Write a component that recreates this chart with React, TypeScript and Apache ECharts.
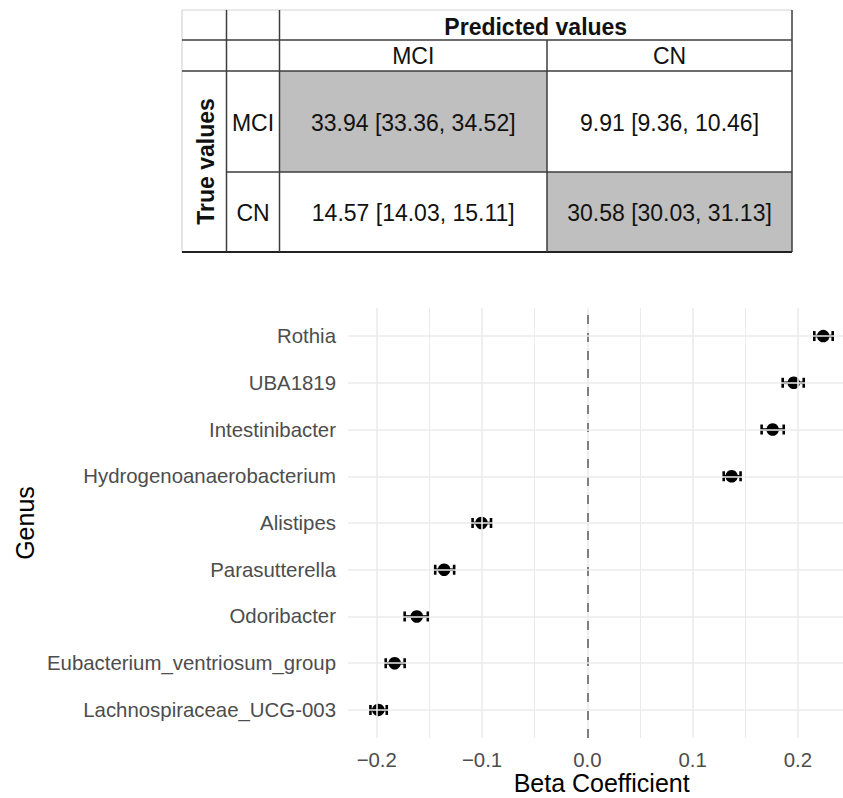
import React, { useEffect, useRef } from "react";
import * as echarts from "echarts";

// ---------- Data ----------
const genera = [
  "Rothia",
  "UBA1819",
  "Intestinibacter",
  "Hydrogenoanaerobacterium",
  "Alistipes",
  "Parasutterella",
  "Odoribacter",
  "Eubacterium_ventriosum_group",
  "Lachnospiraceae_UCG-003",
];
const beta = [0.224, 0.196, 0.176, 0.137, -0.1005, -0.136, -0.162, -0.183, -0.1985];
const betaLow = [0.2155, 0.1855, 0.1655, 0.1295, -0.109, -0.1445, -0.1735, -0.1915, -0.206];
const betaHigh = [0.233, 0.2055, 0.1865, 0.1455, -0.0915, -0.1265, -0.1515, -0.1735, -0.1905];

const xMajorTicks = [-0.2, -0.1, 0, 0.1, 0.2];
const xMinorTicks = [-0.15, -0.05, 0.05, 0.15];

const predLabels = ["MCI", "CN"];
const trueLabels = ["MCI", "CN"];
const cellMean = [
  [33.94, 9.91],
  [14.57, 30.58],
];
const cellLow = [
  [33.36, 9.36],
  [14.03, 30.03],
];
const cellHigh = [
  [34.52, 10.46],
  [15.11, 31.13],
];

// ---------- Layout ----------
const W = 843;
const H = 798;
const FONT = "'Liberation Sans', Arial, sans-serif";
const colX = [182, 226.5, 279.5, 547, 792];
const rowY = [10, 40, 71, 172, 252];
const dark = "#3c3c3c";
const light = "#d4d4d4";

function buildTable(): any[] {
  const els: any[] = [];
  for (let r = 0; r < 2; r++) {
    for (let c = 0; c < 2; c++) {
      if (r === c) {
        els.push({
          type: "rect",
          shape: {
            x: colX[2 + c],
            y: rowY[2 + r],
            width: colX[3 + c] - colX[2 + c],
            height: rowY[3 + r] - rowY[2 + r],
          },
          style: { fill: "#bfbfbf" },
          silent: true,
        });
      }
    }
  }
  const line = (x1: number, y1: number, x2: number, y2: number, stroke: string, lw: number) => ({
    type: "line",
    shape: { x1, y1, x2, y2 },
    style: { stroke, lineWidth: lw },
    silent: true,
  });
  els.push(line(colX[0], rowY[0], colX[4], rowY[0], light, 1.2));
  els.push(line(colX[0], rowY[0], colX[0], rowY[4], light, 1.2));
  els.push(line(colX[0], rowY[1], colX[4], rowY[1], dark, 1.5));
  els.push(line(colX[0], rowY[2], colX[4], rowY[2], dark, 1.5));
  els.push(line(colX[1], rowY[3], colX[4], rowY[3], dark, 1.5));
  els.push(line(colX[0], rowY[4], colX[4], rowY[4], "#222", 2.2));
  els.push(line(colX[1], rowY[0], colX[1], rowY[4], dark, 1.5));
  els.push(line(colX[2], rowY[0], colX[2], rowY[4], dark, 1.5));
  els.push(line(colX[3], rowY[1], colX[3], rowY[4], dark, 1.5));
  els.push(line(colX[4], rowY[0], colX[4], rowY[4], dark, 1.5));

  const txt = (x: number, y: number, text: string, bold = false, extra: any = {}) => ({
    type: "text",
    x,
    y,
    silent: true,
    ...extra,
    style: {
      text,
      fill: "#111",
      font: `${bold ? "bold " : ""}23px ${FONT}`,
      textAlign: "center",
      textVerticalAlign: "middle",
    },
  });
  els.push(txt((colX[2] + colX[4]) / 2, 26.5, "Predicted values", true));
  predLabels.forEach((p, c) => {
    els.push(txt((colX[2 + c] + colX[3 + c]) / 2, (rowY[1] + rowY[2]) / 2 + 0.5, p));
  });
  trueLabels.forEach((t, r) => {
    const cy = (rowY[2 + r] + rowY[3 + r]) / 2 + 1;
    els.push(txt((colX[1] + colX[2]) / 2, cy, t));
    for (let c = 0; c < 2; c++) {
      const s = `${cellMean[r][c].toFixed(2)} [${cellLow[r][c].toFixed(2)}, ${cellHigh[r][c].toFixed(2)}]`;
      els.push(txt((colX[2 + c] + colX[3 + c]) / 2, cy, s));
    }
  });
  els.push(
    txt((colX[0] + colX[1]) / 2 + 1.5, (rowY[2] + rowY[4]) / 2, "True values", true, { rotation: Math.PI / 2 })
  );
  return els;
}

// plot panel (the panel continues past the right edge of the picture)
const panelLeft = 348;
const panelTop = 308;
const panelBottom = 738;
const zeroX = 587.35;
const pxPerUnit = 1053;
const xMin = (panelLeft - zeroX) / pxPerUnit;
const xMax = (W - zeroX) / pxPerUnit;
const fullPanelRight = 855.3;
const catUnit = (panelBottom - panelTop) / (genera.length - 1 + 1.2);
const catTop = panelTop + 0.6 * catUnit - catUnit / 2;
const catBottom = panelBottom - 0.6 * catUnit + catUnit / 2;

export default function App() {
  const ref = useRef<HTMLDivElement>(null);
  useEffect(() => {
    if (!ref.current) return;
    const chart = echarts.init(ref.current, undefined, { renderer: "svg" });
    const gridColor = "#ebebeb";
    const vLines: any[] = [
      ...xMinorTicks.map((v) => ({ xAxis: v, lineStyle: { color: gridColor, width: 1, type: "solid" } })),
      ...xMajorTicks.map((v) => ({ xAxis: v, lineStyle: { color: gridColor, width: 1.6, type: "solid" } })),
      { xAxis: 0, lineStyle: { color: "#7f7f7f", width: 2, type: [9, 9] } },
    ];
    const option: any = {
      animation: false,
      backgroundColor: "#ffffff",
      textStyle: { fontFamily: FONT },
      grid: [
        { left: panelLeft, right: 0, top: panelTop, bottom: H - panelBottom },
        { left: panelLeft, right: 0, top: catTop, bottom: H - catBottom },
      ],
      xAxis: [
        {
          gridIndex: 0,
          type: "value",
          min: xMin,
          max: xMax,
          axisLine: { show: false },
          axisTick: { show: false },
          splitLine: { show: false },
          axisLabel: {
            customValues: xMajorTicks,
            margin: 12,
            fontSize: 20.4,
            lineHeight: 20,
            color: "#4d4d4d",
            fontFamily: FONT,
            formatter: (v: number) => (v < -1e-9 ? "\u2212" : "") + Math.abs(v).toFixed(1),
          },
        },
        { gridIndex: 1, type: "value", min: xMin, max: xMax, show: false },
      ],
      yAxis: [
        { gridIndex: 0, type: "value", min: 0, max: 1, show: false },
        {
          gridIndex: 1,
          type: "category",
          data: genera,
          inverse: true,
          axisLine: { show: false },
          axisTick: { show: false },
          splitLine: { show: false },
          axisLabel: { margin: 12, fontSize: 20.4, color: "#4d4d4d", fontFamily: FONT },
        },
      ],
      graphic: [
        ...buildTable(),
        {
          type: "text",
          x: (panelLeft + fullPanelRight) / 2,
          y: 783,
          silent: true,
          style: {
            text: "Beta Coefficient",
            fill: "#000",
            font: `25px ${FONT}`,
            textAlign: "center",
            textVerticalAlign: "middle",
          },
        },
        {
          type: "text",
          x: 25,
          y: (panelTop + panelBottom) / 2,
          rotation: Math.PI / 2,
          silent: true,
          style: {
            text: "Genus",
            fill: "#000",
            font: `25px ${FONT}`,
            textAlign: "center",
            textVerticalAlign: "middle",
          },
        },
      ],
      series: [
        {
          type: "scatter",
          xAxisIndex: 0,
          yAxisIndex: 0,
          data: [[0, -10]],
          symbolSize: 0,
          silent: true,
          z: 1,
          markLine: {
            silent: true,
            symbol: ["none", "none"],
            label: { show: false },
            emphasis: { disabled: true },
            data: vLines,
          },
        },
        {
          type: "scatter",
          xAxisIndex: 1,
          yAxisIndex: 1,
          data: [[-10, genera[0]]],
          symbolSize: 0,
          silent: true,
          z: 1,
          markLine: {
            silent: true,
            symbol: ["none", "none"],
            label: { show: false },
            emphasis: { disabled: true },
            lineStyle: { color: gridColor, width: 1.6, type: "solid" },
            data: genera.map((g) => ({ yAxis: g })),
          },
        },
        {
          type: "custom",
          xAxisIndex: 1,
          yAxisIndex: 1,
          z: 3,
          silent: true,
          encode: { x: [0, 1], y: 2 },
          data: genera.map((g, i) => [betaLow[i], betaHigh[i], i]),
          renderItem: (params: any, api: any) => {
            const lo = api.coord([api.value(0), api.value(2)]);
            const hi = api.coord([api.value(1), api.value(2)]);
            const h = 5;
            const st = { stroke: "#000", lineWidth: 2.6 };
            return {
              type: "group",
              children: [
                { type: "line", shape: { x1: lo[0], y1: lo[1], x2: hi[0], y2: hi[1] }, style: st },
                { type: "line", shape: { x1: lo[0], y1: lo[1] - h, x2: lo[0], y2: lo[1] + h }, style: st },
                { type: "line", shape: { x1: hi[0], y1: hi[1] - h, x2: hi[0], y2: hi[1] + h }, style: st },
              ],
            };
          },
        },
        {
          type: "scatter",
          xAxisIndex: 1,
          yAxisIndex: 1,
          z: 4,
          symbol: "circle",
          symbolSize: 12.5,
          itemStyle: { color: "#000", opacity: 1 },
          emphasis: { disabled: true },
          data: genera.map((g, i) => [beta[i], g]),
        },
      ],
    };
    chart.setOption(option);
    return () => chart.dispose();
  }, []);
  return (
    <div
      ref={ref}
      style={{ position: "absolute", left: 0, top: 0, width: W, height: H, background: "#fff" }}
    />
  );
}
